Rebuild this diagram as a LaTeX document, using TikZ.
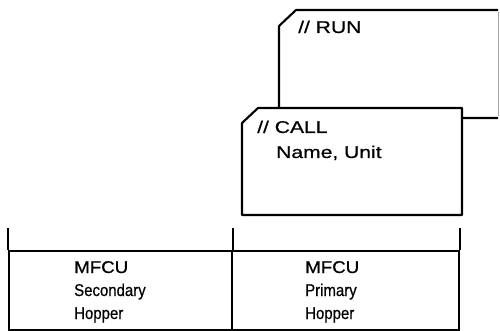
\documentclass[tikz,border=0pt]{standalone}
\usepackage{fontspec}
\setmainfont{Liberation Sans}
\newfontfamily\cardfont[FakeStretch=1.24, FakeBold=0.6]{Liberation Sans}
\newfontfamily\hopfont[FakeStretch=0.88, FakeBold=0.6]{Liberation Sans}
\newfontfamily\hopcaps[FakeStretch=1.1, FakeBold=0.6]{Liberation Sans}
\usetikzlibrary{positioning}

\begin{document}
\begin{tikzpicture}[
    x=1pt, y=-1pt,
    card/.style={draw=black, fill=white, line width=2.1pt, line join=round},
    faint/.style={draw=black!35, line width=0.8pt},
    rule/.style={draw=black, line width=2.1pt},
    txt/.style={font=\fontsize{17}{20}\selectfont, inner sep=0pt, anchor=base west}
]
\useasboundingbox (0,0) rectangle (500,331);

% cards
\draw[card] (498,10) -- (296,10) -- (279,26) -- (279,118) -- (498,118);
\draw[faint] (498,12) -- (498,116);
\draw[card] (242,215) -- (242,123) -- (258,108) -- (462,108) -- (462,215) -- cycle;

\node[txt] (run) at (298,33) {\cardfont // RUN};
\node[txt] (call) at (257,133) {\cardfont // CALL};
\node[txt] (name) at (276,158) {\cardfont Name, Unit};

% hoppers
\node[rule, minimum width=223pt, minimum height=79pt, inner sep=0pt, anchor=north west] (second) at (8,250) {};
\node[rule, minimum width=227pt, minimum height=79pt, inner sep=0pt, anchor=north west] (prime) at (231,250) {};
\draw[rule] (second.north west) -- ++(0,-22);
\draw[rule] (second.north east) -- ++(0,-22);
\draw[rule] (prime.north east) -- ++(0,-22);

\node[txt] (mfcuA) at (74,273) {\hopcaps MFCU};
\node[txt] (secA) at (74,296) {\hopfont Secondary};
\node[txt] (hopA) at (74,319) {\hopfont Hopper};
\node[txt] (mfcuB) at (305,273) {\hopcaps MFCU};
\node[txt] (priB) at (305,296) {\hopfont Primary};
\node[txt] (hopB) at (305,319) {\hopfont Hopper};

\end{tikzpicture}
\end{document}
